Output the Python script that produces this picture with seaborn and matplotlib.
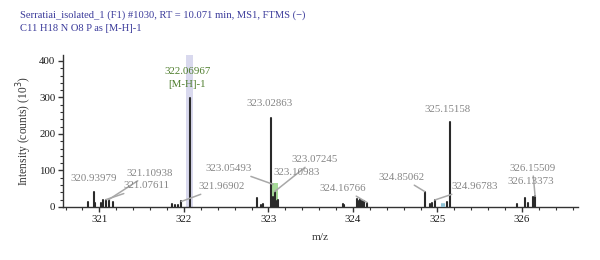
import numpy as np
import pandas as pd
import matplotlib
matplotlib.use("Agg")
import matplotlib.pyplot as plt
from matplotlib.patches import Rectangle
from matplotlib.ticker import MultipleLocator
import seaborn as sns

# Peak list (m/z, intensity in 10^3 counts)
mz = [320.871, 320.93979, 320.952, 321.025, 321.049, 321.07611, 321.10938, 321.162,
      321.865, 321.892, 321.936, 321.96902,
      322.06967,
      322.863, 322.918, 322.937,
      323.02863, 323.045, 323.05493, 323.07245, 323.09, 323.10983,
      323.877, 323.896, 324.045, 324.065, 324.085, 324.105, 324.125, 324.16766,
      324.85062, 324.91, 324.935, 324.96783, 325.108,
      325.15158,
      325.936, 326.04, 326.066, 326.13373, 326.15509]
intensity = [13, 40, 10, 10, 18, 20, 20, 14,
             8, 6, 6, 15,
             299,
             25, 5, 8,
             245, 20, 28, 42, 16, 20,
             7, 5, 21, 17, 22, 15, 15, 12,
             42, 8, 12, 19, 14,
             232,
             7, 25, 12, 28, 29]

# faint blue isotope peaks
blue_mz = [325.05, 325.08]
blue_int = [8, 9]

# labelled peaks
label_mz = [320.93979, 321.10938, 321.07611, 321.96902, 323.02863, 323.05493,
            323.07245, 323.10983, 324.16766, 324.85062, 325.15158, 324.96783,
            326.15509, 326.13373]
target_mz = 322.06967
target_tag = "[M-H]-1"

title1 = "Serratiai_isolated_1 (F1) #1030, RT = 10.071 min, MS1, FTMS (\u2212)"
title2 = "C11 H18 N O8 P as [M-H]-1"

# build long-form table: each peak is a vertical stick from 0 to its height
df = pd.DataFrame({"mz": np.repeat(mz, 2),
                   "intensity": np.ravel([[0, h] for h in intensity]),
                   "peak": np.repeat(np.arange(len(mz)), 2)})
df_blue = pd.DataFrame({"mz": np.repeat(blue_mz, 2),
                        "intensity": np.ravel([[0, h] for h in blue_int]),
                        "peak": np.repeat(np.arange(len(blue_mz)), 2)})

sns.set_theme(style="ticks")
plt.rcParams["font.family"] = ["Liberation Serif", "DejaVu Serif"]

fig = plt.figure(figsize=(6, 2.6), dpi=100)
ax = fig.add_axes([0.105, 0.204, 0.858, 0.584])

# highlight band on the target ion and the green isotope window
ax.axvspan(322.02, 322.11, color="#d9d9ee", lw=0, zorder=0)
ax.add_patch(Rectangle((323.037, 0), 0.078, 65, color="#a6da98", lw=0, zorder=1))
ax.add_patch(Rectangle((324.05, 0), 0.06, 20, color="#bfe0ea", lw=0, zorder=1))

sns.lineplot(data=df, x="mz", y="intensity", units="peak", estimator=None,
             color="#2a2a2a", lw=1.5, ax=ax, zorder=3)
sns.lineplot(data=df_blue, x="mz", y="intensity", units="peak", estimator=None,
             color="#8fc3d6", lw=1.5, ax=ax, zorder=3)

lookup = dict(zip(mz, intensity))
# text position (m/z, intensity) and whether a leader line is drawn
text_pos = {
    320.93979: (320.934, 79, False),
    321.10938: (321.596, 93, True),
    321.07611: (321.561, 58, True),
    321.96902: (322.449, 56, True),
    323.02863: (323.008, 284, False),
    323.05493: (322.535, 105, True),
    323.07245: (323.549, 130, True),
    323.10983: (323.333, 94, False),
    324.16766: (323.884, 51, True),
    324.85062: (324.575, 81, True),
    325.15158: (325.115, 268, False),
    324.96783: (325.443, 56, True),
    326.15509: (326.125, 106, True),
    326.13373: (326.102, 71, False),
}
lab_kw = dict(fontsize=7.8, color="#858585", ha="center", va="center")
for m in label_mz:
    tx, ty, lead = text_pos[m]
    peak_y = lookup[m]
    if m == 323.05493:
        peak_y = 62
    if lead:
        ax.annotate(f"{m:.5f}", xy=(m, peak_y), xytext=(tx, ty),
                    arrowprops=dict(arrowstyle="-", color="#a8a8a8", lw=1.1,
                                    shrinkA=0, shrinkB=0), zorder=4, **lab_kw)
    else:
        ax.text(tx, ty, f"{m:.5f}", zorder=4, **lab_kw)

ax.text(322.043, 372, f"{target_mz:.5f}", fontsize=7.8, color="#4e7d2c",
        ha="center", va="center")
ax.text(322.043, 336, target_tag, fontsize=7.8, color="#4e7d2c",
        ha="center", va="center")

ax.set_xlim(320.57, 326.66)
ax.set_ylim(0, 416)
ax.xaxis.set_major_locator(MultipleLocator(1))
ax.xaxis.set_minor_locator(MultipleLocator(0.2))
ax.yaxis.set_major_locator(MultipleLocator(100))
ax.yaxis.set_minor_locator(MultipleLocator(20))
ax.tick_params(which="major", length=3.5, width=1, color="#333333",
               labelsize=7.8, labelcolor="#1a1a1a", pad=2)
ax.tick_params(which="minor", length=2, width=0.8, color="#333333")
for s in ["top", "right"]:
    ax.spines[s].set_visible(False)
for s in ["left", "bottom"]:
    ax.spines[s].set_color("#333333")
    ax.spines[s].set_linewidth(1)

ax.set_xlabel("m/z", fontsize=8.2, color="#333333", labelpad=7)
ax.set_ylabel("Intensity (counts) (10$^3$)", fontsize=8.3, color="#333333", labelpad=4)

fig.text(20 / 600, 1 - 15 / 260, title1, fontsize=7.6, color="#3a3a9a", va="center")
fig.text(20 / 600, 1 - 28 / 260, title2, fontsize=7.6, color="#3a3a9a", va="center")

fig.savefig("out.png", dpi=100)
